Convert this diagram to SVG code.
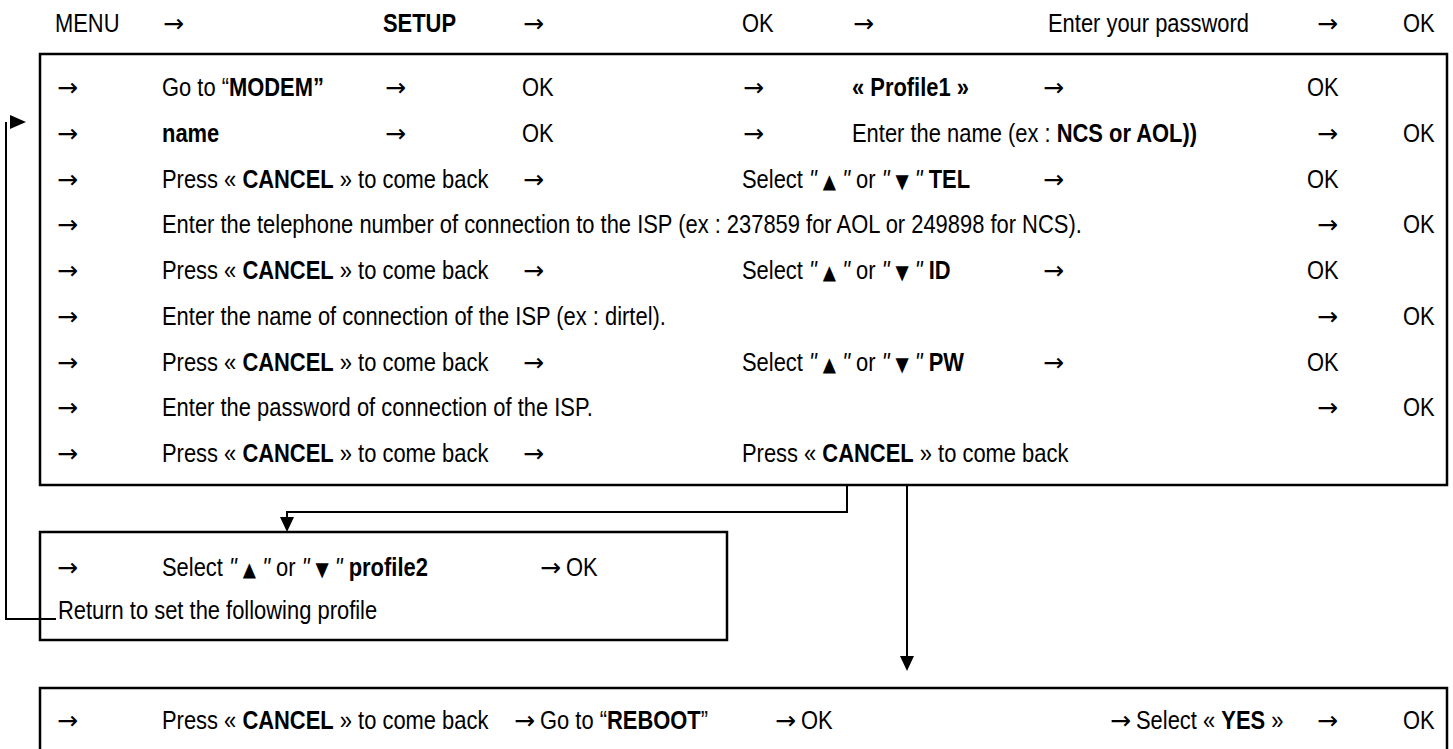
<svg xmlns="http://www.w3.org/2000/svg" width="1453" height="749" viewBox="0 0 1453 749">
<style>
text{font-family:"Liberation Sans Narrow","Liberation Sans",Arial,sans-serif;font-size:25.5px;fill:#000;transform-box:fill-box;transform-origin:0 0;transform:scaleX(.86)}
text.a{font-family:"DejaVu Sans",sans-serif;font-size:25px;transform:none}
.b{font-weight:bold}
.q{font-style:italic}
.t{font-family:"DejaVu Sans",sans-serif;font-size:20px}
.box{fill:none;stroke:#000;stroke-width:2.5}
.con{fill:none;stroke:#000;stroke-width:2}
.head{fill:#000;stroke:none}
</style>
<rect width="1453" height="749" fill="#fff"/>

<g id="top-row">
<text x="55" y="32">MENU</text>
<text class="a" x="163" y="32">→</text>
<text x="383" y="32" class="b">SETUP</text>
<text class="a" x="523" y="32">→</text>
<text x="742" y="32">OK</text>
<text class="a" x="853" y="32">→</text>
<text x="1048" y="32">Enter your password</text>
<text class="a" x="1317" y="32">→</text>
<text x="1403" y="32">OK</text>
</g>

<g id="modem-box">
<rect class="box" x="40" y="54" width="1407" height="431"/>
<text class="a" x="57" y="96">→</text>
<text x="162" y="96">Go to “<tspan class="b">MODEM”</tspan></text>
<text class="a" x="385" y="96">→</text>
<text x="522" y="96">OK</text>
<text class="a" x="743" y="96">→</text>
<text x="852" y="96" class="b">« Profile1 »</text>
<text class="a" x="1043" y="96">→</text>
<text x="1307" y="96">OK</text>

<text class="a" x="57" y="142">→</text>
<text x="162" y="142" class="b">name</text>
<text class="a" x="385" y="142">→</text>
<text x="522" y="142">OK</text>
<text class="a" x="743" y="142">→</text>
<text x="852" y="142">Enter the name (ex : <tspan class="b">NCS or AOL))</tspan></text>
<text class="a" x="1317" y="142">→</text>
<text x="1403" y="142">OK</text>

<text class="a" x="57" y="188">→</text>
<text x="162" y="188">Press « <tspan class="b">CANCEL</tspan> » to come back</text>
<text class="a" x="523" y="188">→</text>
<text x="742" y="188">Select <tspan class="q">"</tspan> <tspan class="t">▲</tspan> <tspan class="q">"</tspan> or <tspan class="q">"</tspan> <tspan class="t">▼</tspan> <tspan class="q">"</tspan> <tspan class="b">TEL</tspan></text>
<text class="a" x="1043" y="188">→</text>
<text x="1307" y="188">OK</text>

<text class="a" x="57" y="233">→</text>
<text x="162" y="233">Enter the telephone number of connection to the ISP (ex :  237859 for AOL or 249898 for NCS).</text>
<text class="a" x="1317" y="233">→</text>
<text x="1403" y="233">OK</text>

<text class="a" x="57" y="279">→</text>
<text x="162" y="279">Press « <tspan class="b">CANCEL</tspan> » to come back</text>
<text class="a" x="523" y="279">→</text>
<text x="742" y="279">Select <tspan class="q">"</tspan> <tspan class="t">▲</tspan> <tspan class="q">"</tspan> or <tspan class="q">"</tspan> <tspan class="t">▼</tspan> <tspan class="q">"</tspan> <tspan class="b">ID</tspan></text>
<text class="a" x="1043" y="279">→</text>
<text x="1307" y="279">OK</text>

<text class="a" x="57" y="325">→</text>
<text x="162" y="325">Enter the name of connection of the ISP (ex : dirtel).</text>
<text class="a" x="1317" y="325">→</text>
<text x="1403" y="325">OK</text>

<text class="a" x="57" y="371">→</text>
<text x="162" y="371">Press « <tspan class="b">CANCEL</tspan> » to come back</text>
<text class="a" x="523" y="371">→</text>
<text x="742" y="371">Select <tspan class="q">"</tspan> <tspan class="t">▲</tspan> <tspan class="q">"</tspan> or <tspan class="q">"</tspan> <tspan class="t">▼</tspan> <tspan class="q">"</tspan> <tspan class="b">PW</tspan></text>
<text class="a" x="1043" y="371">→</text>
<text x="1307" y="371">OK</text>

<text class="a" x="57" y="416">→</text>
<text x="162" y="416">Enter the password of connection of the ISP.</text>
<text class="a" x="1317" y="416">→</text>
<text x="1403" y="416">OK</text>

<text class="a" x="57" y="462">→</text>
<text x="162" y="462">Press « <tspan class="b">CANCEL</tspan> » to come back</text>
<text class="a" x="523" y="462">→</text>
<text x="742" y="462">Press « <tspan class="b">CANCEL</tspan> » to come back</text>
</g>

<g id="profile2-box">
<rect class="box" x="40" y="532" width="687" height="108"/>
<text class="a" x="57" y="576">→</text>
<text x="162" y="576">Select <tspan class="q">"</tspan> <tspan class="t">▲</tspan> <tspan class="q">"</tspan> or <tspan class="q">"</tspan> <tspan class="t">▼</tspan> <tspan class="q">"</tspan> <tspan class="b">profile2</tspan></text>
<text class="a" x="540" y="576">→</text>
<text x="566" y="576">OK</text>
<text x="58" y="619">Return to set the following profile</text>
</g>

<g id="reboot-box">
<rect class="box" x="40" y="688" width="1407" height="70"/>
<text class="a" x="57" y="729">→</text>
<text x="162" y="729">Press « <tspan class="b">CANCEL</tspan> » to come back</text>
<text class="a" x="514" y="729">→</text>
<text x="540" y="729">Go to “<tspan class="b">REBOOT</tspan>”</text>
<text class="a" x="775" y="729">→</text>
<text x="801" y="729">OK</text>
<text class="a" x="1110" y="729">→</text>
<text x="1136" y="729">Select « <tspan class="b">YES</tspan> »</text>
<text class="a" x="1317" y="729">→</text>
<text x="1403" y="729">OK</text>
</g>

<g id="connectors">
<path class="con" d="M56,619 H6 V122"/>
<polygon class="head" points="10,115 26,122 10,129"/>
<path class="con" d="M847,485 V512 H287 V520"/>
<polygon class="head" points="280,517 294,517 287,532"/>
<path class="con" d="M907,485 V658"/>
<polygon class="head" points="900,656 914,656 907,671"/>
</g>
</svg>
